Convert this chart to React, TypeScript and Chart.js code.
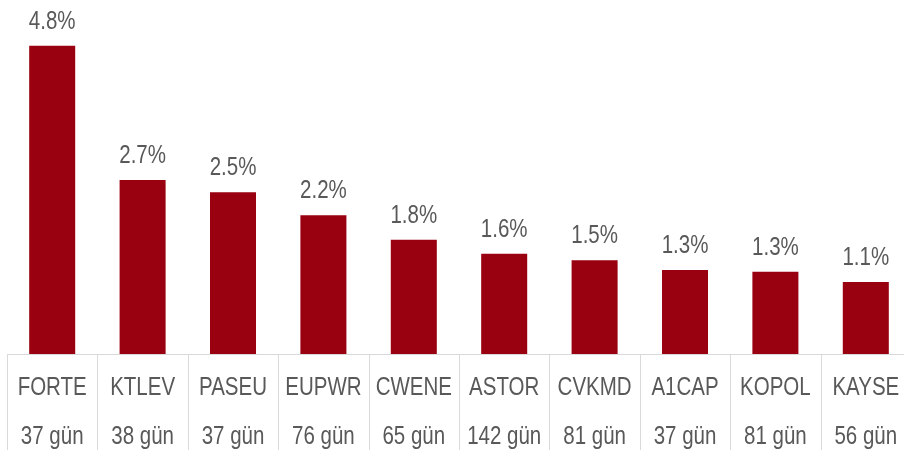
import React, { useEffect, useRef } from 'react';
import { Chart, registerables } from 'chart.js';

Chart.register(...registerables);

const categories = ['FORTE', 'KTLEV', 'PASEU', 'EUPWR', 'CWENE', 'ASTOR', 'CVKMD', 'A1CAP', 'KOPOL', 'KAYSE'];
const durations = ['37 gün', '38 gün', '37 gün', '76 gün', '65 gün', '142 gün', '81 gün', '37 gün', '81 gün', '56 gün'];
const values = [4.8, 2.71, 2.52, 2.16, 1.78, 1.56, 1.46, 1.31, 1.28, 1.12];

const FONT = "'Liberation Sans', Arial, sans-serif";
const NARROW = 0.82;
const TEXT = '#595959';
const LINE = '#d9d9d9';
const BAR = '#990010';

function narrowText(ctx: CanvasRenderingContext2D, text: string, x: number, y: number) {
  ctx.save();
  ctx.translate(x, y);
  ctx.scale(NARROW, 1);
  ctx.fillText(text, 0, 0);
  ctx.restore();
}

const valueLabels = {
  id: 'valueLabels',
  afterDatasetsDraw(chart: any) {
    const ctx = chart.ctx;
    const meta = chart.getDatasetMeta(0);
    ctx.save();
    ctx.font = `25px ${FONT}`;
    ctx.fillStyle = TEXT;
    ctx.textAlign = 'center';
    ctx.textBaseline = 'alphabetic';
    meta.data.forEach((bar: any, i: number) => {
      const v = chart.data.datasets[0].data[i] as number;
      narrowText(ctx, v.toFixed(1) + '%', bar.x, bar.y - 17);
    });
    ctx.restore();
  },
};

const categoryAxis = {
  id: 'categoryAxis',
  afterDraw(chart: any) {
    const ctx = chart.ctx;
    const xs = chart.scales.x;
    const labels = chart.data.labels as string[][];
    const n = labels.length;
    const step = xs.getPixelForValue(1) - xs.getPixelForValue(0);
    const bottom = chart.chartArea.bottom;
    ctx.save();
    ctx.strokeStyle = LINE;
    ctx.lineWidth = 1;
    for (let i = 0; i <= n; i++) {
      const x = Math.round(xs.getPixelForValue(i) - step / 2) + 0.5;
      ctx.beginPath();
      ctx.moveTo(x, bottom);
      ctx.lineTo(x, bottom + 96);
      ctx.stroke();
    }
    ctx.font = `25px ${FONT}`;
    ctx.fillStyle = TEXT;
    ctx.textAlign = 'center';
    ctx.textBaseline = 'alphabetic';
    labels.forEach((lines, i) => {
      const x = xs.getPixelForValue(i);
      narrowText(ctx, lines[0], x, bottom + 41);
      narrowText(ctx, lines[1], x, bottom + 90);
    });
    ctx.restore();
  },
};

export default function App() {
  const ref = useRef<HTMLCanvasElement | null>(null);
  useEffect(() => {
    if (!ref.current) return;
    const chart = new Chart(ref.current, {
      type: 'bar',
      data: {
        labels: categories.map((c, i) => [c, durations[i]]),
        datasets: [
          {
            data: values,
            backgroundColor: BAR,
            borderWidth: 0,
            categoryPercentage: 1,
            barPercentage: 0.509,
          },
        ],
      },
      options: {
        responsive: false,
        animation: false,
        devicePixelRatio: 1,
        layout: { padding: { left: 7, right: 1, top: 0, bottom: 100 } },
        plugins: { legend: { display: false }, tooltip: { enabled: false } },
        scales: {
          x: {
            grid: { display: false, drawTicks: false },
            border: { display: true, color: LINE, width: 1 },
            ticks: { display: false, padding: 0 },
          },
          y: {
            display: false,
            min: 0,
            max: 5.514,
          },
        },
      },
      plugins: [valueLabels, categoryAxis],
    });
    return () => chart.destroy();
  }, []);
  return (
    <div
      style={{
        position: 'fixed',
        left: 0,
        top: 0,
        width: 904,
        height: 454,
        overflow: 'hidden',
        background: '#fff',
      }}
    >
      <canvas ref={ref} width={912} height={454} style={{ display: 'block', width: 912, height: 454 }} />
    </div>
  );
}
